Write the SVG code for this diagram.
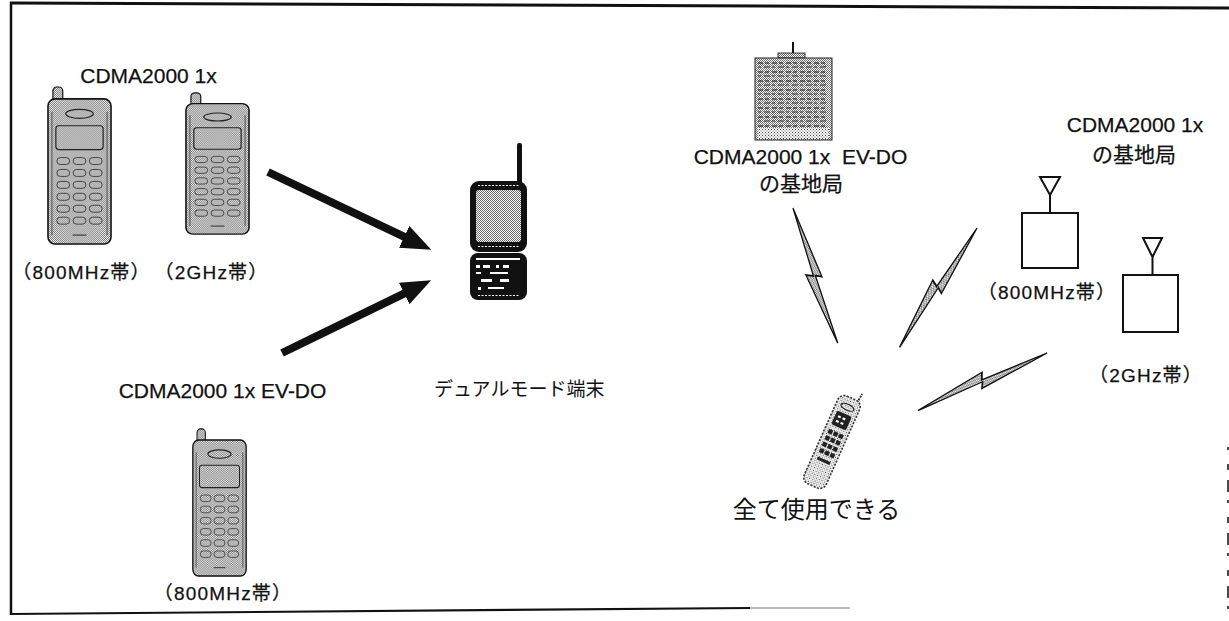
<svg xmlns="http://www.w3.org/2000/svg" xmlns:xlink="http://www.w3.org/1999/xlink" width="1229" height="621" viewBox="0 0 1229 621">
  <style>
    .lbl { font-family: "Liberation Sans", "Noto Sans CJK JP", sans-serif; font-size: 21px; fill: #111; stroke: #111; stroke-width: 0.25; }
    .band { font-size: 19px; letter-spacing: 1.2px; }
    .jp { font-family: "Noto Sans CJK JP", sans-serif; fill: #111; }
    .frame { stroke: #111; fill: none; }
    .arrow { stroke: #111; stroke-width: 8; fill: none; marker-end: url(#head); }
    .bolt { fill: url(#stipple); stroke: #111; stroke-width: 1.3; vector-effect: non-scaling-stroke; stroke-linejoin: miter; }
    .bs { fill: none; stroke: #111; stroke-width: 2; }
    .key { fill: none; stroke: #444; stroke-width: 1; }
  </style>
  <defs>
    <pattern id="stipple" width="2" height="2" patternUnits="userSpaceOnUse">
      <rect width="2" height="2" fill="#fff"/>
      <rect width="1" height="1" fill="#6a6a6a"/>
      <rect x="1" y="1" width="1" height="1" fill="#6a6a6a"/>
    </pattern>
    <pattern id="stippleLight" width="3" height="3" patternUnits="userSpaceOnUse">
      <rect width="3" height="3" fill="#fff"/>
      <rect width="1" height="1" fill="#444"/>
      <rect x="1.5" y="1.5" width="1" height="1" fill="#444"/>
    </pattern>
    <marker id="head" markerUnits="userSpaceOnUse" markerWidth="30" markerHeight="24" viewBox="0 0 30 24" refX="2" refY="12" orient="auto">
      <path d="M0,0 L30,12 L0,24 Z" fill="#111"/>
    </marker>
    <!-- lightning bolt, axis from (0,0) to (0,100) -->
    <path id="boltShape" d="M0,0 L10,52 L4,50 L8,100 L-5,48 L2,50 Z"/>
    <!-- candy-bar handset with stub antenna -->
    <symbol id="handset" viewBox="0 0 66 160" preserveAspectRatio="none">
      <rect x="6" y="1" width="10" height="15" rx="4" fill="url(#stipple)" stroke="#111" stroke-width="1.2"/>
      <rect x="1" y="13" width="64" height="146" rx="7" fill="url(#stipple)" stroke="#111" stroke-width="1.6"/>
      <line x1="5" y1="26" x2="5" y2="150" stroke="#333" stroke-width="0.8"/>
      <line x1="61" y1="26" x2="61" y2="150" stroke="#333" stroke-width="0.8"/>
      <ellipse cx="33" cy="28" rx="14" ry="4.5" fill="none" stroke="#222" stroke-width="1.2"/>
      <rect x="9" y="40" width="48" height="24" rx="3" fill="none" stroke="#222" stroke-width="1.2"/>
      <g class="key">
        <rect x="10" y="72" width="13" height="7" rx="3.5"/><rect x="26.5" y="72" width="13" height="7" rx="3.5"/><rect x="43" y="72" width="13" height="7" rx="3.5"/>
        <rect x="10" y="84" width="13" height="7" rx="3.5"/><rect x="26.5" y="84" width="13" height="7" rx="3.5"/><rect x="43" y="84" width="13" height="7" rx="3.5"/>
        <rect x="10" y="96" width="13" height="7" rx="3.5"/><rect x="26.5" y="96" width="13" height="7" rx="3.5"/><rect x="43" y="96" width="13" height="7" rx="3.5"/>
        <rect x="10" y="108" width="13" height="7" rx="3.5"/><rect x="26.5" y="108" width="13" height="7" rx="3.5"/><rect x="43" y="108" width="13" height="7" rx="3.5"/>
        <rect x="10" y="120" width="13" height="7" rx="3.5"/><rect x="26.5" y="120" width="13" height="7" rx="3.5"/><rect x="43" y="120" width="13" height="7" rx="3.5"/>
        <rect x="10" y="132" width="13" height="7" rx="3.5"/><rect x="26.5" y="132" width="13" height="7" rx="3.5"/><rect x="43" y="132" width="13" height="7" rx="3.5"/>
      </g>
      <line x1="26" y1="150" x2="40" y2="150" stroke="#222" stroke-width="1"/>
    </symbol>
  </defs>

  <rect width="1229" height="621" fill="#fff"/>

  <!-- page frame -->
  <g id="frame" class="frame">
    <line x1="10" y1="3" x2="1229" y2="8" stroke-width="3"/>
    <line x1="11" y1="2" x2="11" y2="615" stroke-width="2.5"/>
    <line x1="10" y1="614" x2="750" y2="608" stroke-width="2.2"/>
    <line x1="750" y1="608" x2="850" y2="608" stroke-width="1" stroke="#777"/>
    <line x1="1228" y1="447" x2="1228" y2="621" stroke-width="1.5" stroke-dasharray="3 14 6 10 12 8"/>
  </g>

  <!-- CDMA2000 1x handsets -->
  <g id="phone-1x-800">
    <use xlink:href="#handset" x="47" y="86" width="65" height="159"/>
    <text class="lbl band" x="81.5" y="279" text-anchor="middle">（800MHz帯）</text>
  </g>
  <g id="phone-1x-2g">
    <use xlink:href="#handset" x="185" y="92" width="65" height="143"/>
    <text class="lbl band" x="211.5" y="279" text-anchor="middle">（2GHz帯）</text>
  </g>
  <text id="label-1x" class="lbl" x="148.5" y="83" text-anchor="middle">CDMA2000 1x</text>

  <!-- CDMA2000 1x EV-DO handset -->
  <g id="phone-evdo">
    <text class="lbl" x="222.5" y="398" text-anchor="middle">CDMA2000 1x EV-DO</text>
    <use xlink:href="#handset" x="192" y="428" width="55" height="149"/>
    <text class="lbl band" x="223" y="600" text-anchor="middle">（800MHz帯）</text>
  </g>

  <!-- dual mode terminal -->
  <g id="dual-mode">
    <rect x="517" y="143" width="5" height="42" rx="2" fill="#111"/>
    <rect x="470" y="181" width="57" height="71" rx="9" fill="#111"/>
    <rect x="476" y="190" width="45" height="52" rx="3" fill="url(#stipple)"/>
    <line x1="478" y1="185.5" x2="519" y2="185.5" stroke="#fff" stroke-width="1.2" stroke-dasharray="2 1.5"/>
    <line x1="478" y1="246.5" x2="519" y2="246.5" stroke="#fff" stroke-width="1.2" stroke-dasharray="2 1.5"/>
    <rect x="470" y="253" width="57" height="47" rx="8" fill="#111"/>
    <g fill="#fff">
      <rect x="476" y="258" width="44" height="2"/>
      <rect x="476" y="265" width="4" height="3"/><rect x="483" y="265" width="7" height="3"/><rect x="496" y="265" width="3" height="3"/><rect x="503" y="265" width="6" height="3"/>
      <rect x="476" y="272" width="5" height="2"/><rect x="490" y="272" width="18" height="2"/>
      <rect x="481" y="279" width="11" height="3"/><rect x="500" y="279" width="9" height="3"/>
      <rect x="478" y="287" width="3" height="3"/><rect x="488" y="287" width="16" height="2"/>
    </g>
    <line x1="478" y1="295.5" x2="519" y2="295.5" stroke="#fff" stroke-width="1.2" stroke-dasharray="2 1.5"/>
    <text class="jp" x="434" y="396" font-size="19">デュアルモード端末</text>
  </g>

  <!-- connectors -->
  <g id="connectors">
    <line class="arrow" x1="268" y1="172" x2="406" y2="237.7"/>
    <line class="arrow" x1="282" y1="353" x2="406" y2="292.6"/>
    <use xlink:href="#boltShape" class="bolt" transform="translate(793,208) rotate(-15.1) scale(1,1.42)"/>
    <use xlink:href="#boltShape" class="bolt" transform="translate(977,228) rotate(36.2) scale(1,1.42)"/>
    <use xlink:href="#boltShape" class="bolt" transform="translate(1047,353) rotate(69.2) scale(1,1.41)"/>
  </g>

  <!-- EV-DO base station (building) -->
  <g id="bs-evdo">
    <line x1="793" y1="42" x2="793" y2="54" stroke="#111" stroke-width="2"/>
    <rect x="778" y="53" width="27" height="5" fill="url(#stipple)" stroke="#111" stroke-width="0.8"/>
    <rect x="755" y="58" width="77" height="82" fill="url(#stipple)" stroke="#222" stroke-width="1"/>
    <g fill="none" stroke="#111" stroke-width="1.1">
      <path d="M758,63 h70 M758,72 h70 M758,81 h70 M758,90 h70 M758,99 h70 M758,108 h70 M758,117 h70 M758,126 h70" stroke-dasharray="5 2 4 3"/>
      <path d="M758,67 h70 M758,76 h70 M758,85 h70 M758,94 h70 M758,103 h70 M758,112 h70 M758,121 h70" stroke-dasharray="3 3 6 2" stroke="#333"/>
    </g>
    <rect x="758" y="128" width="71" height="11" fill="url(#stippleLight)"/>
    <text class="lbl" x="800.5" y="164" text-anchor="middle" style="white-space:pre">CDMA2000 1x  EV-DO</text>
    <text class="lbl" x="801" y="191" text-anchor="middle" font-size="19">の基地局</text>
  </g>

  <!-- CDMA2000 1x base stations -->
  <g id="bs-1x-label">
    <text class="lbl" x="1135" y="132" text-anchor="middle">CDMA2000 1x</text>
    <text class="lbl" x="1134" y="162" text-anchor="middle" font-size="20">の基地局</text>
  </g>
  <g id="bs-1x-800">
    <path class="bs" d="M1040,177 L1060,177 L1050,195 Z M1050,195 V213"/>
    <rect class="bs" x="1022" y="213" width="56" height="55"/>
    <text class="lbl band" x="1047" y="299" text-anchor="middle">（800MHz帯）</text>
  </g>
  <g id="bs-1x-2g">
    <path class="bs" d="M1143,238 L1162,238 L1152.5,257 Z M1152.5,257 V275"/>
    <rect class="bs" x="1123" y="275" width="55" height="57"/>
    <text class="lbl band" x="1146" y="382" text-anchor="middle">（2GHz帯）</text>
  </g>

  <!-- terminal that can use all networks -->
  <g id="terminal-all">
    <g transform="translate(832,442) rotate(24)">
      <line x1="7" y1="-46" x2="8" y2="-56" stroke="#333" stroke-width="2" stroke-dasharray="2 1"/>
      <rect x="-12" y="-48" width="24" height="96" rx="7" fill="url(#stippleLight)" stroke="#333" stroke-width="1.6" stroke-dasharray="2 1.5"/>
      <ellipse cx="0" cy="-38" rx="7" ry="3" fill="none" stroke="#222" stroke-width="1.2"/>
      <rect x="-8" y="-31" width="16" height="15" rx="2" fill="#222"/>
      <g fill="#fff"><rect x="-5" y="-27" width="3" height="2"/><rect x="0" y="-27" width="3" height="2"/><rect x="-5" y="-22" width="3" height="2"/><rect x="0" y="-22" width="3" height="2"/></g>
      <g fill="#222">
        <rect x="-8" y="-11" width="4.5" height="4.5"/><rect x="-2.2" y="-11" width="4.5" height="4.5"/><rect x="3.6" y="-11" width="4.5" height="4.5"/>
        <rect x="-8" y="-4" width="4.5" height="4.5"/><rect x="-2.2" y="-4" width="4.5" height="4.5"/><rect x="3.6" y="-4" width="4.5" height="4.5"/>
        <rect x="-8" y="3" width="4.5" height="4.5"/><rect x="-2.2" y="3" width="4.5" height="4.5"/><rect x="3.6" y="3" width="4.5" height="4.5"/>
        <rect x="-8" y="10" width="4.5" height="4.5"/><rect x="-2.2" y="10" width="4.5" height="4.5"/><rect x="3.6" y="10" width="4.5" height="4.5"/>
        <rect x="-7" y="19" width="14" height="3"/>
      </g>
    </g>
    <text class="jp" x="816.5" y="518" font-size="24" text-anchor="middle">全て使用できる</text>
  </g>
</svg>
